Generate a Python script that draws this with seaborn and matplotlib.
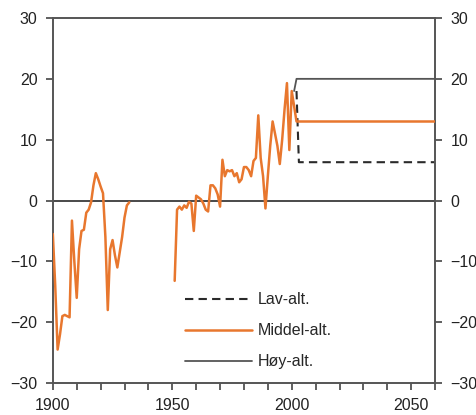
import numpy as np
import matplotlib
matplotlib.use("Agg")
import matplotlib.pyplot as plt
import seaborn as sns

sns.set_style("white")
plt.rcParams['font.family'] = ['Liberation Sans', 'DejaVu Sans']
plt.rcParams['font.size'] = 11.5

# historical series, part 1 (1900-1932)
years_a = list(range(1900, 1933))
vals_a = [-5.5, -14, -24.5, -22, -19, -18.8, -19, -19.2, -3.3, -10,
          -16, -8, -5, -4.8, -2, -1.5, -0.3, 2.5, 4.5, 3.5,
          2.3, 1.2, -6, -18, -8, -6.5, -9, -11, -8.5, -6,
          -2.8, -0.8, -0.3]

# historical series, part 2 (1951-2002)
years_b = list(range(1951, 2003))
vals_b = [-13.2, -1.5, -1.0, -1.5, -0.8, -1.2, -0.2, -0.5, -5.0, 0.8,
          0.5, 0.2, -0.5, -1.5, -1.8, 2.5, 2.5, 2.0, 1.0, -1.0,
          6.7, 4.0, 5.0, 4.8, 5.0, 4.0, 4.5, 3.0, 3.5, 5.5,
          5.5, 5.0, 4.0, 6.5, 7.0, 14.0, 7.0, 4.0, -1.3, 4.0,
          9.0, 13.0, 11.0, 9.0, 6.0, 10.0, 15.0, 19.3, 8.3, 18.0,
          15.5, 13.0]

# projections
years_mid = [2002, 2003, 2060]
vals_mid = [13.0, 13.0, 13.0]
years_low = [2002, 2003, 2060]
vals_low = [18.0, 6.3, 6.3]
years_high = [2001, 2002, 2060]
vals_high = [18.0, 20.0, 20.0]

orange = "#E8772E"
grey = "#555555"

fig = plt.figure(figsize=(4.76, 4.15), dpi=100)
ax = fig.add_axes([0.111, 0.077, 0.803, 0.8796])

ax.axhline(0, color="#3a3a3a", lw=1.3, zorder=1)

sns.lineplot(x=years_low, y=vals_low, ax=ax, color="#2a2a2a", lw=1.5,
             label="Lav-alt.", zorder=2)
ax.lines[-1].set_dashes((4, 2.5))
sns.lineplot(x=years_high, y=vals_high, ax=ax, color=grey, lw=1.3,
             label="Høy-alt.", zorder=2)
sns.lineplot(x=years_a, y=vals_a, ax=ax, color=orange, lw=1.8, zorder=3)
sns.lineplot(x=years_b, y=vals_b, ax=ax, color=orange, lw=1.8, zorder=3)
sns.lineplot(x=years_mid, y=vals_mid, ax=ax, color=orange, lw=1.8,
             label="Middel-alt.", zorder=3)

ax.set_xlim(1900, 2060)
ax.set_ylim(-30, 30)
ax.set_xticks(np.arange(1900, 2061, 10))
ax.set_xticklabels([str(y) if y % 50 == 0 else "" for y in range(1900, 2061, 10)])
ax.set_yticks(np.arange(-30, 31, 10))
ax.tick_params(axis="both", direction="out", length=5, width=1.2,
               color="#444444", labelcolor="#222222", pad=6,
               left=True, bottom=True, right=True, labelright=True)
for s in ax.spines.values():
    s.set_color("#555555")
    s.set_linewidth(1.4)

h, l = ax.get_legend_handles_labels()
order = [l.index("Lav-alt."), l.index("Middel-alt."), l.index("Høy-alt.")]
ax.legend([h[i] for i in order], [l[i] for i in order], loc="upper left",
          bbox_to_anchor=(0.325, 0.27), frameon=False, borderpad=0,
          handlelength=4.2, handletextpad=0.35, labelspacing=1.0,
          fontsize=11.5)

ax.set_xlabel("")
ax.set_ylabel("")
fig.savefig("out.png", dpi=100)
